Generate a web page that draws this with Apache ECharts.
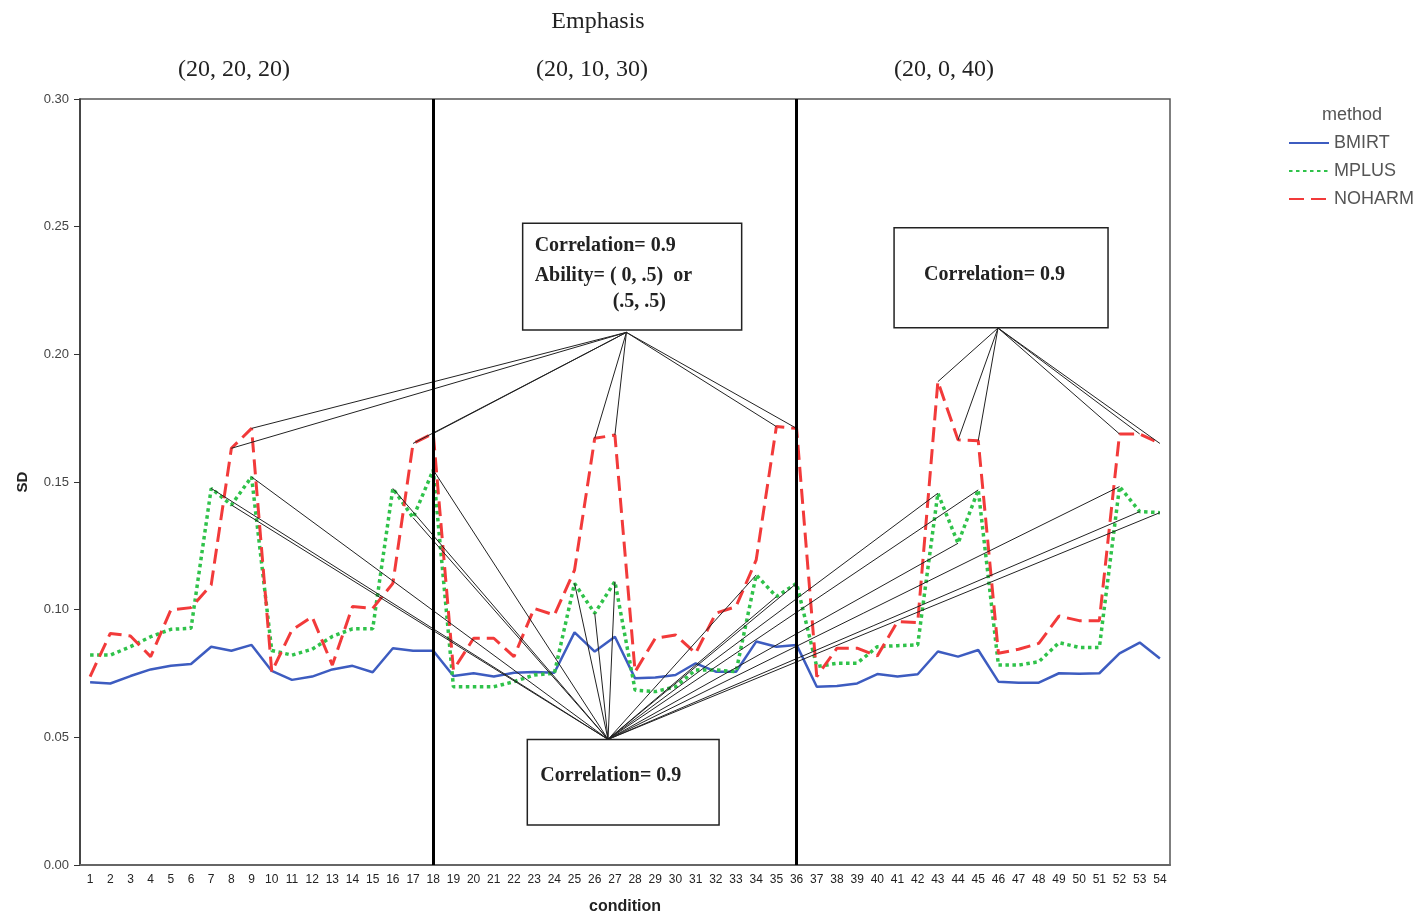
<!DOCTYPE html>
<html>
<head>
<meta charset="utf-8">
<title>SD by condition</title>
<script src="https://cdn.jsdelivr.net/npm/echarts@6/dist/echarts.min.js"></script>
<style>
  html, body { margin: 0; padding: 0; background: #ffffff; }
  #chart { width: 1427px; height: 918px; }
</style>
</head>
<body>
<div id="chart"></div>
<script>
// Conditions 1..54 (three emphasis blocks of 18)
const CONDITIONS = ['1','2','3','4','5','6','7','8','9','10','11','12','13','14','15','16','17','18',
  '19','20','21','22','23','24','25','26','27','28','29','30','31','32','33','34','35','36',
  '37','38','39','40','41','42','43','44','45','46','47','48','49','50','51','52','53','54'];

const Y_TICKS = [0, 0.05, 0.10, 0.15, 0.20, 0.25, 0.30];

// SD of estimates per condition, one array per method
const BMIRT = [0.0716,0.0711,0.0740,0.0766,0.0780,0.0787,0.0855,0.0839,0.0862,0.0760,0.0725,0.0738,0.0766,0.0780,0.0755,0.0849,0.0839,0.0839,
  0.0740,0.0751,0.0738,0.0753,0.0756,0.0753,0.0911,0.0836,0.0894,0.0731,0.0734,0.0744,0.0790,0.0757,0.0757,0.0875,0.0855,0.0862,
  0.0698,0.0701,0.0711,0.0748,0.0738,0.0747,0.0836,0.0816,0.0842,0.0718,0.0714,0.0714,0.0751,0.0749,0.0751,0.0829,0.0871,0.0809];

const MPLUS = [0.0822,0.0822,0.0855,0.0894,0.0923,0.0927,0.1475,0.1410,0.1520,0.0840,0.0822,0.0845,0.0895,0.0925,0.0925,0.1475,0.1360,0.1547,
  0.0698,0.0698,0.0698,0.0718,0.0744,0.0751,0.1103,0.0986,0.1110,0.0685,0.0679,0.0698,0.0764,0.0764,0.0757,0.1136,0.1051,0.1103,
  0.0777,0.0790,0.0790,0.0855,0.0859,0.0862,0.1456,0.1260,0.1469,0.0783,0.0783,0.0796,0.0871,0.0852,0.0852,0.1482,0.1384,0.1380];

const NOHARM = [0.0738,0.0907,0.0897,0.0816,0.0999,0.1008,0.1097,0.1632,0.1710,0.0757,0.0920,0.0972,0.0783,0.1012,0.1005,0.1103,0.1651,0.1690,
  0.0764,0.0888,0.0888,0.0816,0.1005,0.0979,0.1155,0.1671,0.1684,0.0757,0.0888,0.0901,0.0829,0.0986,0.1012,0.1195,0.1717,0.1710,
  0.0738,0.0849,0.0849,0.0819,0.0953,0.0949,0.1893,0.1665,0.1662,0.0829,0.0845,0.0868,0.0975,0.0957,0.0957,0.1688,0.1688,0.1651];

// Block boundaries and block labels
const BLOCK_EDGES = ['18', '36'];
const BLOCK_LABELS = ['(20, 20, 20)', '(20, 10, 30)', '(20, 0, 40)'];

// Conditions that each callout points at
const CALLOUT_A_TARGETS = [8, 9, 17, 18, 26, 27, 35, 36];      // NOHARM peaks, blocks 1-2
const CALLOUT_B_TARGETS = [43, 44, 45, 52, 53, 54];            // NOHARM peaks, block 3
const CALLOUT_C_TARGETS = [7, 8, 9, 16, 17, 18, 25, 26, 27, 34, 35, 36, 43, 44, 45, 52, 53, 54]; // MPLUS peaks

// Callout boxes, placed in (condition, SD) units
const CALLOUTS = [
  { x1: 22.43, y1: 0.2513, x2: 33.28, y2: 0.2095, anchor: [27.57, 0.2086],
    lines: [['Correlation= 0.9', 12, 22], ['Ability= ( 0, .5)  or', 12, 52], ['(.5, .5)', 90, 78]] },
  { x1: 40.83, y1: 0.2496, x2: 51.43, y2: 0.2104, anchor: [45.98, 0.2103],
    lines: [['Correlation= 0.9', 30, 47]] },
  { x1: 22.66, y1: 0.0492, x2: 32.16, y2: 0.0157, anchor: [26.66, 0.0492],
    lines: [['Correlation= 0.9', 13, 36]] }
];

const COLORS = { BMIRT: '#3d5cc0', MPLUS: '#2fc24a', NOHARM: '#f23a3a' };

function connectors() {
  const out = [];
  CALLOUT_A_TARGETS.forEach(c => out.push([CALLOUTS[0].anchor[0], CALLOUTS[0].anchor[1], c, NOHARM[c - 1]]));
  CALLOUT_B_TARGETS.forEach(c => out.push([CALLOUTS[1].anchor[0], CALLOUTS[1].anchor[1], c, NOHARM[c - 1]]));
  CALLOUT_C_TARGETS.forEach(c => out.push([CALLOUTS[2].anchor[0], CALLOUTS[2].anchor[1], c, MPLUS[c - 1]]));
  return out;
}

const SERIF = '"Liberation Serif", "DejaVu Serif", serif';
const SANS = '"Liberation Sans", Arial, sans-serif';

const chart = echarts.init(document.getElementById('chart'), null, { renderer: 'canvas' });

function headText(text, x, y) {
  return { type: 'text', style: { text, x, y, textAlign: 'center', textVerticalAlign: 'middle', font: '24px ' + SERIF, fill: '#222' } };
}

const option = {
  backgroundColor: '#ffffff',
  animation: false,
  grid: {
    left: 80, right: 257, top: 99, bottom: 53,
    outerBoundsMode: 'none',
    show: true, borderColor: '#555', borderWidth: 1.5
  },
  graphic: [
    headText('Emphasis', 598, 22),
    headText(BLOCK_LABELS[0], 234, 70),
    headText(BLOCK_LABELS[1], 592, 70),
    headText(BLOCK_LABELS[2], 944, 70),
    { type: 'text', style: { text: 'method', x: 1352, y: 115, textAlign: 'center', textVerticalAlign: 'middle', font: '18px ' + SANS, fill: '#555' } }
  ],
  legend: {
    orient: 'vertical', left: 1288, top: 134, padding: 0,
    itemWidth: 40, itemHeight: 14, itemGap: 10,
    itemStyle: { opacity: 0 },
    textStyle: { fontSize: 18, color: '#555', fontFamily: SANS },
    data: ['BMIRT', 'MPLUS', 'NOHARM']
  },
  xAxis: [
    {
      type: 'category', data: CONDITIONS, boundaryGap: true,
      name: 'condition', nameLocation: 'middle', nameGap: 34,
      nameTextStyle: { fontSize: 16, fontWeight: 'bold', color: '#222', fontFamily: SANS },
      axisLine: { lineStyle: { color: '#666', width: 2 } },
      axisTick: { alignWithLabel: true, length: 6, lineStyle: { color: '#222', width: 1.5 } },
      axisLabel: { interval: 0, fontSize: 12, color: '#222', margin: 9, fontFamily: '"Liberation Sans Narrow", ' + SANS },
      splitLine: { show: false }
    },
    { type: 'value', min: 0.5, max: 54.5, show: false },
    {
      type: 'category', data: CONDITIONS, boundaryGap: true, position: 'bottom',
      axisLine: { show: false },
      axisTick: { inside: true, alignWithLabel: true, length: 4, lineStyle: { color: '#222', width: 1.5 } },
      axisLabel: { show: false }, splitLine: { show: false }
    }
  ],
  yAxis: {
    type: 'value', min: Y_TICKS[0], max: Y_TICKS[Y_TICKS.length - 1], interval: 0.05,
    name: 'SD', nameLocation: 'middle', nameGap: 50,
    nameTextStyle: { fontSize: 15, fontWeight: 'bold', color: '#222', fontFamily: SANS },
    axisLine: { show: true, lineStyle: { color: '#333', width: 1.5 } },
    axisTick: { show: true, length: 6, lineStyle: { color: '#333' } },
    axisLabel: { fontSize: 13, color: '#444', margin: 11, fontFamily: SANS, formatter: v => v.toFixed(2) },
    splitLine: { show: false }
  },
  series: [
    {
      name: 'BMIRT', type: 'line', data: BMIRT, xAxisIndex: 0, symbol: 'none', z: 3,
      lineStyle: { color: COLORS.BMIRT, width: 2.5 }, itemStyle: { color: COLORS.BMIRT },
      markLine: {
        silent: true, symbol: 'none', label: { show: false },
        lineStyle: { color: '#000', width: 3, type: 'solid' },
        data: BLOCK_EDGES.map(c => ({ xAxis: c }))
      }
    },
    {
      name: 'MPLUS', type: 'line', data: MPLUS, xAxisIndex: 0, symbol: 'none', z: 3,
      lineStyle: { color: COLORS.MPLUS, width: 3.5, type: [3.5, 3.5] }, itemStyle: { color: COLORS.MPLUS }
    },
    {
      name: 'NOHARM', type: 'line', data: NOHARM, xAxisIndex: 0, symbol: 'none', z: 3,
      lineStyle: { color: COLORS.NOHARM, width: 3, type: [15, 7] }, itemStyle: { color: COLORS.NOHARM }
    },
    {
      // leader lines from each callout to the points it describes
      type: 'custom', xAxisIndex: 1, yAxisIndex: 0, silent: true, z: 4,
      data: connectors(),
      encode: { x: [0, 2], y: [1, 3] },
      renderItem: (params, api) => {
        const a = api.coord([api.value(0), api.value(1)]);
        const b = api.coord([api.value(2), api.value(3)]);
        return { type: 'line', shape: { x1: a[0], y1: a[1], x2: b[0], y2: b[1] }, style: { stroke: '#222', lineWidth: 1 } };
      }
    },
    {
      // callout boxes
      type: 'custom', xAxisIndex: 1, yAxisIndex: 0, silent: true, z: 5,
      data: CALLOUTS.map(b => [b.x1, b.y1, b.x2, b.y2]),
      encode: { x: [0, 2], y: [1, 3] },
      renderItem: (params, api) => {
        const box = CALLOUTS[params.dataIndex];
        const tl = api.coord([api.value(0), api.value(1)]);
        const br = api.coord([api.value(2), api.value(3)]);
        const children = [{
          type: 'rect',
          shape: { x: tl[0], y: tl[1], width: br[0] - tl[0], height: br[1] - tl[1] },
          style: { fill: '#ffffff', stroke: '#222', lineWidth: 1.5 }
        }];
        box.lines.forEach(([t, dx, dy]) => children.push({
          type: 'text',
          style: { text: t, x: tl[0] + dx, y: tl[1] + dy, textVerticalAlign: 'middle', font: 'bold 20px ' + SERIF, fill: '#222' }
        }));
        return { type: 'group', children };
      }
    }
  ]
};

chart.setOption(option);
</script>
</body>
</html>
